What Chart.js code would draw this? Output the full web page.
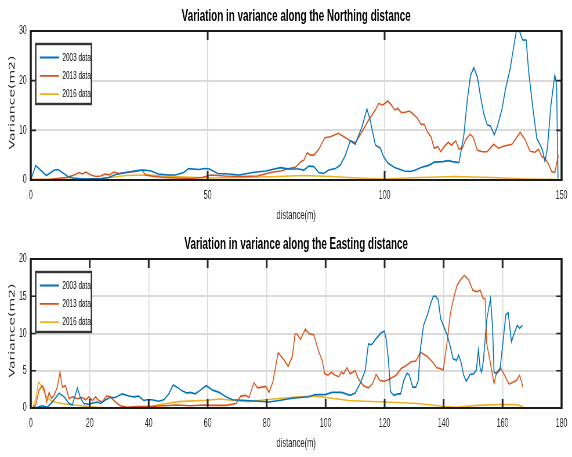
<!DOCTYPE html>
<html>
<head>
<meta charset="utf-8">
<title>Variation in variance</title>
<script src="https://cdn.jsdelivr.net/npm/chart.js"></script>
<style>
  html, body { margin: 0; padding: 0; background: #fff; overflow: hidden; }
  canvas { display: block; }
</style>
</head>
<body>
<!-- drawn wide, then squeezed to 572px like the original figure -->
<canvas id="northChart" width="986" height="228" style="width:572px;height:228px"></canvas>
<canvas id="eastChart" width="986" height="229" style="width:572px;height:229px"></canvas>
<script>
// Northing profile
const northX2003 = [0, 1.4, 4.4, 6.7, 7.7, 10.5, 12, 15, 20, 22,
  24, 27, 30, 32, 34, 36, 39, 40.8, 43.2, 44.6,
  47.4, 49.3, 50.5, 52.8, 56, 58.9, 62.7, 66.4, 70.6, 73,
  75.8, 77.2, 78.6, 80, 81.4, 82.8, 84.2, 86.1, 87.5, 88.9,
  90.3, 91.7, 93.6, 95, 95.9, 97.4, 98.8, 99.7, 100.9, 102.8,
  105.6, 107, 108.4, 110.3, 112.6, 114, 116.4, 118, 119.2, 121,
  122.4, 123.4, 124.3, 125.2, 126.2, 127.1, 128, 129, 129.9, 131,
  132, 133.2, 134.1, 135.5, 136.4, 137.2, 138.1, 139, 140, 140.7,
  141.9, 143, 144, 144.6, 145.3, 146, 147, 148.1, 148.6, 149];
const north2003 = [0, 2.9, 0.9, 2.0, 2.1, 0.7, 0.4, 0.2, 0.3, 0.5,
  1.1, 1.5, 1.9, 2.0, 1.8, 1.2, 1.0, 1.0, 1.5, 2.3,
  2.1, 2.3, 2.2, 1.3, 1.2, 1.0, 1.5, 1.8, 2.5, 2.2,
  2.2, 2.0, 2.8, 2.7, 1.5, 1.3, 2.0, 2.3, 3.0, 5.0,
  7.9, 7.2, 10.7, 14.3, 12.1, 7.0, 6.4, 4.7, 3.4, 2.5,
  1.8, 1.7, 1.9, 2.5, 3.0, 3.6, 3.7, 3.9, 3.7, 3.5,
  9.1, 16.4, 21.1, 22.6, 20.8, 16.8, 13.4, 11.1, 10.9, 9.1,
  11.1, 14.4, 18.1, 22.5, 26.5, 29.9, 30, 28.2, 28.2, 21.8,
  14.4, 8.4, 7.0, 6.0, 3.7, 6.4, 15.1, 21.1, 19.1, 0.3];

const northX2013 = [0, 5, 10, 12.3, 13.7, 14.6, 15.6, 17, 18.4, 19.8,
  21, 22.2, 23.5, 24.9, 26.8, 29.6, 31.5, 32.4, 34.8, 38,
  40.8, 45.5, 48.3, 51, 54.8, 59.5, 64, 67.8, 70.6, 73,
  74.9, 76.3, 77.2, 78.1, 79.1, 80, 81.4, 83.1, 84.7, 86.9,
  88.5, 90.3, 91.7, 93.6, 95.5, 97.4, 98.3, 99.5, 100.9, 101.9,
  102.8, 103.7, 104.7, 105.6, 107, 107.9, 109.3, 110.3, 111.2, 112.1,
  113.1, 114, 115, 115.9, 116.8, 118, 118.9, 120.1, 121, 122,
  122.9, 124.1, 125, 126.2, 127.6, 129, 130.8, 132.2, 133.6, 136,
  138.3, 139.7, 141.1, 142.5, 143.5, 144.4, 145.3, 146.3, 147.2, 148.1,
  149.1];
const north2013 = [0.1, 0.1, 0.5, 1.0, 1.5, 1.2, 1.6, 1.0, 0.7, 0.8,
  1.2, 1.0, 1.6, 1.3, 1.5, 1.7, 2.0, 1.0, 0.7, 0.5,
  0.4, 0.3, 0.5, 1.0, 0.8, 0.7, 0.8, 1.5, 1.8, 2.3,
  2.6, 3.7, 4.0, 5.5, 5.0, 5.0, 6.2, 8.5, 8.7, 9.4,
  8.7, 7.9, 7.5, 9.7, 12.1, 14.1, 15.4, 15.1, 15.9, 15.1,
  14.1, 14.4, 13.6, 13.6, 13.9, 13.4, 12.4, 11.2, 11.2, 9.7,
  8.7, 6.4, 6.7, 5.7, 6.7, 7.6, 7.0, 7.9, 6.2, 6.5,
  8.1, 9.2, 8.7, 6.0, 5.7, 5.7, 7.2, 6.4, 6.8, 7.2,
  9.6, 8.1, 5.8, 5.6, 6.2, 4.7, 4.4, 3.2, 1.7, 1.5,
  5.0];

const northX2016 = [0, 10, 20, 27, 33, 40, 50, 60, 70, 77, 85, 92, 100, 110, 120, 130, 140, 149];
const north2016 = [0.1, 0.15, 0.3, 0.9, 1.0, 0.7, 0.4, 0.5, 0.7, 0.9, 0.7, 0.4, 0.2, 0.5, 0.7, 0.5, 0.2, 0.1];

// Easting profile
const eastX2003 = [0.5, 2.3, 3.9, 5.6, 7.3, 9.6, 11.3, 13, 14.1, 15.8,
  16.9, 18, 19.7, 21.4, 22.5, 23.7, 25.4, 27, 28.7, 31,
  33.3, 35, 36.6, 38.3, 39.5, 41.1, 43.4, 45.1, 46.8, 48.3,
  49.6, 51.3, 53, 54.1, 55.8, 57.5, 59.5, 61.7, 63.9, 66.2,
  68.4, 72.9, 77.4, 80.8, 84.2, 88.7, 94.3, 96.5, 99.9, 102.1,
  105.5, 108.3, 110, 111.7, 113.4, 114.5, 115.6, 117.3, 118.8, 119.9,
  120.6, 121.3, 122, 123.1, 124.5, 125.4, 126.5, 127.6, 128.4, 129.5,
  130.6, 131.4, 132.1, 133.2, 134.5, 135.6, 136.5, 137.3, 138.2, 139,
  140.1, 141.2, 142.3, 143.2, 144.4, 145.1, 146, 146.8, 147.7, 149,
  150.2, 151.1, 151.8, 152.4, 152.9, 153.5, 154.6, 155.9, 156.6, 157.1,
  158, 159.1, 160.2, 161.1, 161.9, 163, 164.1, 165, 165.8, 166.7];
const east2003 = [0, 0.1, 0.3, 0.1, 0.8, 2.0, 1.5, 0.6, 0.4, 2.7,
  1.3, 0.6, 0.5, 0.7, 0.8, 0.6, 1.1, 1.4, 1.4, 1.9,
  1.6, 1.5, 1.6, 1.0, 1.1, 1.1, 0.9, 1.1, 1.9, 3.1,
  2.8, 2.3, 2.0, 2.1, 1.9, 2.4, 3.0, 2.4, 2.1, 1.5,
  1.1, 1.0, 0.9, 0.8, 1.0, 1.3, 1.5, 1.8, 1.8, 2.1,
  2.1, 1.7, 2.0, 3.3, 5.0, 8.6, 8.5, 9.4, 10.1, 10.3,
  9.1, 6.4, 2.2, 1.7, 1.9, 1.9, 3.7, 4.7, 4.4, 2.8,
  2.8, 3.7, 7.8, 11.1, 12.5, 14.0, 15.0, 15.0, 14.5, 12.0,
  10.9, 9.8, 8.2, 6.6, 6.4, 7.1, 6.0, 4.4, 3.6, 4.5,
  4.6, 5.1, 7.8, 5.3, 4.8, 6.4, 11.8, 14.7, 10.9, 4.8,
  4.6, 5.1, 9.1, 12.5, 12.8, 8.9, 10.2, 11.1, 10.7, 11.1];

const eastX2013 = [0.6, 1.7, 2.8, 3.9, 4.5, 5.4, 6.2, 7, 7.9, 9,
  9.9, 10.7, 11.8, 13, 14.1, 15.8, 17.5, 18.6, 19.7, 20.9,
  22, 23.1, 24.2, 25.7, 27, 28.7, 30.4, 32.7, 36, 40.6,
  45.1, 49.6, 54.1, 58.6, 61.7, 66.2, 69.6, 71.2, 72.9, 74,
  75.7, 76.9, 79.7, 80.8, 82.1, 83.9, 85.8, 87.3, 88.7, 89.6,
  90.3, 91.5, 93.1, 94.3, 96, 97.6, 98.8, 99.7, 100.8, 101.9,
  103.3, 104.4, 105.3, 106.1, 107.2, 108.3, 110, 111.1, 112.8, 114.5,
  115.8, 117.1, 118.4, 120, 121.7, 123.9, 125.6, 127.3, 129, 130.6,
  132.1, 133.2, 134.5, 136.2, 137.7, 138.8, 139.9, 141.2, 142.3, 143.5,
  144.6, 145.7, 147, 148.5, 149.9, 151.3, 152.4, 153.3, 154.1, 154.6,
  155.8, 156.6, 157.1, 158, 159.3, 160.4, 162.2, 163.6, 164.7, 165.8,
  166.9];
const east2013 = [0, 0.4, 2.4, 3.0, 2.6, 0.8, 2.1, 1.3, 1.7, 2.8,
  4.8, 2.8, 3.0, 1.25, 1.5, 1.25, 1.4, 1.1, 1.5, 1.0,
  1.5, 1.0, 0.8, 1.6, 1.5, 0.8, 0.3, 0.1, 0.2, 0.2,
  0.3, 0.4, 0.3, 0.4, 0.35, 0.35, 0.6, 1.6, 1.7, 1.4,
  3.4, 2.7, 2.9, 2.1, 3.5, 7.4, 6.5, 5.6, 6.9, 9.9,
  9.9, 9.2, 10.6, 10.0, 9.8, 7.6, 6.4, 4.6, 4.4, 4.8,
  4.4, 4.2, 4.8, 4.6, 5.4, 4.6, 5.0, 3.9, 3.0, 2.7,
  3.2, 4.5, 3.7, 3.6, 3.9, 4.4, 5.3, 5.7, 6.2, 6.3,
  7.5, 7.2, 6.9, 6.2, 5.4, 5.3, 5.1, 8.9, 12.7, 14.9,
  16.5, 17.2, 17.8, 17.2, 15.8, 15.6, 15.8, 14.8, 14.6, 8.7,
  6.2, 4.4, 3.3, 4.8, 5.4, 4.6, 3.2, 3.5, 3.7, 4.4,
  2.8];

const eastX2016 = [0.6, 1.7, 2.6, 3.7, 5, 6.8, 9, 12.4, 16.9, 22.5,
  28, 34, 39.5, 43, 46, 50, 55, 60, 64, 69,
  74, 79.7, 85.3, 90.9, 96.5, 102.1, 107.8, 113.4, 120, 126,
  131.2, 136, 140.1, 144.6, 151.3, 158, 164.7, 166.9];
const east2016 = [0, 1.25, 3.5, 2.9, 1.7, 1.0, 0.7, 0.5, 0.3, 0.1,
  0, 0, 0.1, 0.4, 0.6, 0.85, 0.95, 1.05, 1.2, 1.0,
  0.85, 1.1, 1.3, 1.5, 1.6, 1.3, 1.0, 0.9, 0.8, 0.7,
  0.6, 0.4, 0.2, 0.1, 0.35, 0.45, 0.45, 0.2];

const seriesLabels = ["2003 data", "2013 data", "2016 data"];
const seriesColors = ["#0072BD", "#D95319", "#EDB120"];

const textColor = "#262626";

// frame, inward ticks, boxed legend and titles (MATLAB look)
const matlabLook = {
  id: "matlabLook",
  afterDraw(chart, args, opts) {
    const { ctx, chartArea: a, scales } = chart;
    ctx.save();

    // inward tick marks
    ctx.strokeStyle = textColor;
    ctx.lineWidth = 3;
    scales.x.ticks.forEach(t => {
      const px = scales.x.getPixelForValue(t.value);
      if (px <= a.left + 1 || px >= a.right - 1) return;
      ctx.beginPath();
      ctx.moveTo(px, a.bottom); ctx.lineTo(px, a.bottom - 9);
      ctx.moveTo(px, a.top); ctx.lineTo(px, a.top + 9);
      ctx.stroke();
    });
    ctx.lineWidth = 1.6;
    scales.y.ticks.forEach(t => {
      const py = scales.y.getPixelForValue(t.value);
      if (py <= a.top + 1 || py >= a.bottom - 1) return;
      ctx.beginPath();
      ctx.moveTo(a.left, py); ctx.lineTo(a.left + 9, py);
      ctx.moveTo(a.right, py); ctx.lineTo(a.right - 9, py);
      ctx.stroke();
    });

    // axes box
    ctx.strokeStyle = "#1a1a1a";
    ctx.lineWidth = 2.2;
    ctx.beginPath();
    ctx.moveTo(a.left, a.top); ctx.lineTo(a.right, a.top);
    ctx.moveTo(a.left, a.bottom); ctx.lineTo(a.right, a.bottom);
    ctx.stroke();
    ctx.lineWidth = 3.5;
    ctx.beginPath();
    ctx.moveTo(a.left, a.top - 1); ctx.lineTo(a.left, a.bottom + 1);
    ctx.moveTo(a.right, a.top - 1); ctx.lineTo(a.right, a.bottom + 1);
    ctx.stroke();

    // legend box, upper left
    const bx = a.left + 8.6, by = a.top + 13, bw = 96, bh = 60;
    ctx.fillStyle = "#fff";
    ctx.fillRect(bx, by, bw, bh);
    ctx.strokeStyle = "#333";
    ctx.lineWidth = 2.4;
    ctx.strokeRect(bx, by, bw, bh);
    ctx.font = '11px "Liberation Sans", Arial, sans-serif';
    ctx.textAlign = "left";
    ctx.textBaseline = "middle";
    chart.data.datasets.forEach((ds, i) => {
      const ry = by + 13.5 + i * 18.3;
      ctx.strokeStyle = ds.borderColor;
      ctx.lineWidth = 1.8;
      ctx.beginPath();
      ctx.moveTo(bx + 7, ry); ctx.lineTo(bx + 40, ry);
      ctx.stroke();
      ctx.fillStyle = "#000";
      ctx.fillText(ds.label, bx + 46, ry);
    });

    // title
    ctx.fillStyle = "#000";
    ctx.textAlign = "center";
    ctx.textBaseline = "alphabetic";
    ctx.font = 'bold 17px "Liberation Sans", Arial, sans-serif';
    ctx.fillText(opts.title, (a.left + a.right) / 2, 20.5);

    // axis titles
    ctx.fillStyle = textColor;
    ctx.textBaseline = "middle";
    ctx.font = '13px "Liberation Sans", Arial, sans-serif';
    ctx.fillText(opts.xLabel, (a.left + a.right) / 2, a.bottom + 35);
    ctx.translate(21.5, (a.top + a.bottom) / 2 - 3);
    ctx.rotate(-Math.PI / 2);
    ctx.font = '14px "DejaVu Sans", sans-serif';
    ctx.fillText(opts.yLabel, 0, 0);

    ctx.restore();
  }
};

function toPoints(xs, ys) {
  return xs.map((x, i) => ({ x: x, y: ys[i] }));
}

function makeChart(id, xs, ys, xMax, xStep, yMax, yStep, title, axisHeight) {
  const ctx = document.getElementById(id).getContext("2d");
  const tickFont = { family: '"Liberation Sans", Arial, sans-serif', size: 12 };
  return new Chart(ctx, {
    type: "line",
    data: {
      datasets: seriesLabels.map((label, i) => ({
        label: label,
        data: toPoints(xs[i], ys[i]),
        borderColor: seriesColors[i],
        backgroundColor: seriesColors[i],
        borderWidth: 1.6,
        pointRadius: 0,
        tension: 0,
        fill: false
      }))
    },
    options: {
      responsive: false,
      animation: false,
      events: [],
      layout: { padding: { left: 0, right: 10, top: 31, bottom: 0 } },
      plugins: {
        legend: { display: false },
        tooltip: { enabled: false },
        title: { display: false },
        matlabLook: { title: title, xLabel: "distance(m)", yLabel: "Variance(m2)" }
      },
      scales: {
        x: {
          type: "linear",
          min: 0,
          max: xMax,
          ticks: { stepSize: xStep, color: textColor, font: tickFont, padding: 8, maxRotation: 0, autoSkip: false },
          grid: { color: "#dadada", lineWidth: 1.6, drawTicks: false },
          border: { display: false },
          afterFit(scale) { scale.height = axisHeight; }
        },
        y: {
          min: 0,
          max: yMax,
          ticks: { stepSize: yStep, color: textColor, font: tickFont, padding: 7 },
          grid: { color: "#dadada", lineWidth: 2, drawTicks: false },
          border: { display: false },
          afterFit(scale) { scale.width = 53; }
        }
      }
    },
    plugins: [matlabLook]
  });
}

makeChart("northChart",
  [northX2003, northX2013, northX2016],
  [north2003, north2013, north2016],
  150, 50, 30, 10,
  "Variation in variance along the Northing distance", 48);

makeChart("eastChart",
  [eastX2003, eastX2013, eastX2016],
  [east2003, east2013, east2016],
  180, 20, 20, 5,
  "Variation in variance along the Easting distance", 49);
</script>
</body>
</html>
